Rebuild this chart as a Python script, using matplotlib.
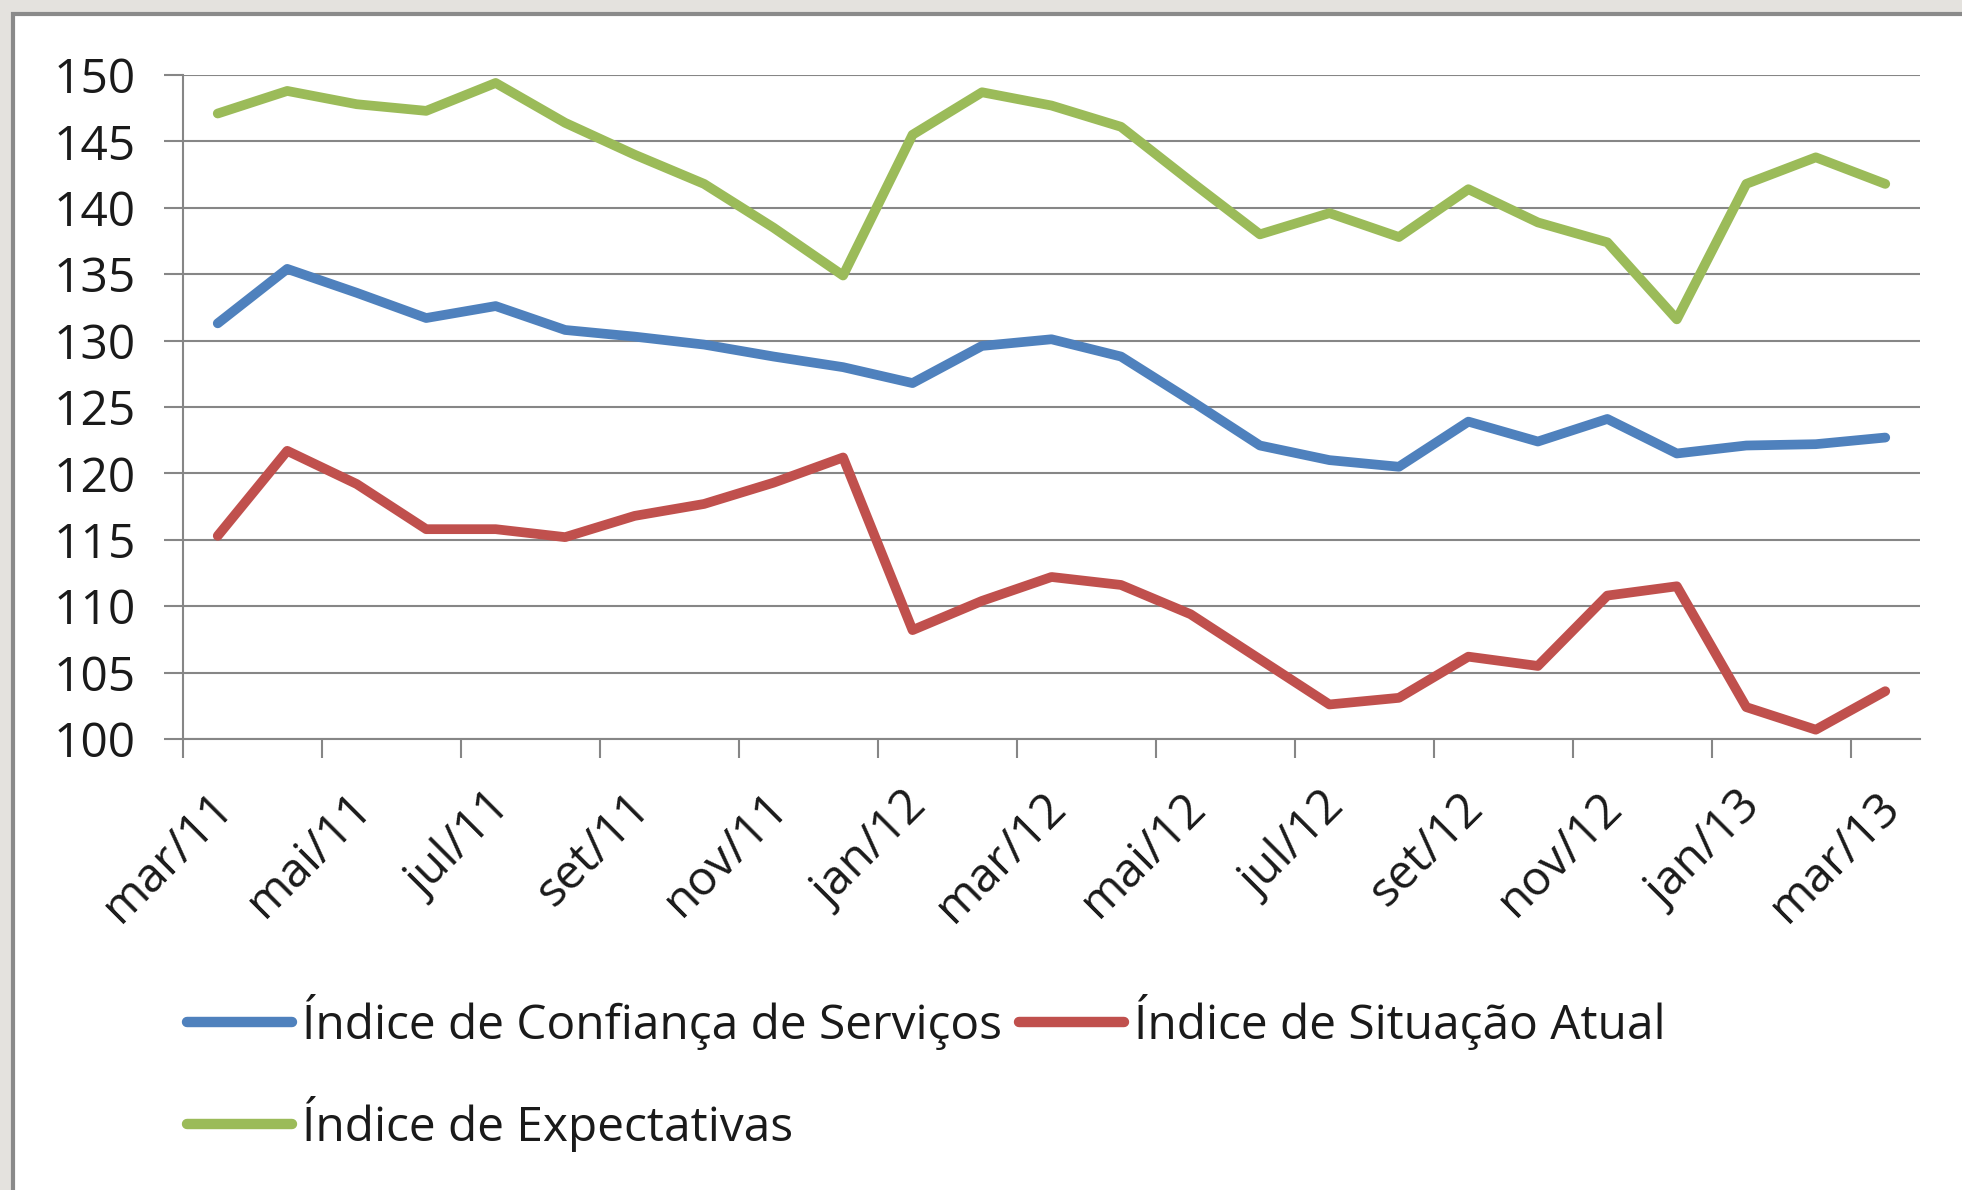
import matplotlib
matplotlib.use("Agg")
import matplotlib.pyplot as plt
from matplotlib.patches import Rectangle
from matplotlib.transforms import ScaledTranslation
import numpy as np

months = ["mar/11", "abr/11", "mai/11", "jun/11", "jul/11", "ago/11", "set/11", "out/11",
          "nov/11", "dez/11", "jan/12", "fev/12", "mar/12", "abr/12", "mai/12", "jun/12",
          "jul/12", "ago/12", "set/12", "out/12", "nov/12", "dez/12", "jan/13", "fev/13", "mar/13"]

confianca = [131.3, 135.4, 133.6, 131.7, 132.6, 130.8, 130.3, 129.7, 128.8, 128.0, 126.8, 129.6,
             130.1, 128.8, 125.5, 122.1, 121.0, 120.5, 123.9, 122.4, 124.1, 121.5, 122.1, 122.2, 122.7]
situacao = [115.3, 121.7, 119.2, 115.8, 115.8, 115.2, 116.8, 117.7, 119.3, 121.2, 108.2, 110.4,
            112.2, 111.6, 109.4, 106.0, 102.6, 103.1, 106.2, 105.5, 110.8, 111.5, 102.4, 100.7, 103.6]
expectativas = [147.1, 148.8, 147.8, 147.3, 149.4, 146.4, 144.0, 141.8, 138.5, 134.9, 145.5, 148.7,
                147.7, 146.1, 142.0, 138.0, 139.6, 137.8, 141.4, 138.9, 137.4, 131.6, 141.8, 143.8, 141.8]

series_names = ["Índice de Confiança de Serviços", "Índice de Situação Atual", "Índice de Expectativas"]
colors = ["#4F81BD", "#C0504D", "#9BBB59"]
y_ticks = [100, 105, 110, 115, 120, 125, 130, 135, 140, 145, 150]

plt.rcParams['font.family'] = ['Open Sans', 'DejaVu Sans']
FS = 34.5
GRID = "#868686"
TXT = "#1a1a1a"

W, H = 1962, 1190
fig = plt.figure(figsize=(W / 100, H / 100), dpi=100)
fig.patch.set_facecolor("#e4e2de")

# white chart box with grey border on left/top
fig.add_artist(Rectangle((13 / W, -0.02), 1.05, 1 - 14 / H + 0.02, transform=fig.transFigure,
                         facecolor="white", edgecolor="#8a8a8a", linewidth=3, zorder=0))

ax = fig.add_axes([183 / W, 1 - 739 / H, (1920 - 183) / W, (739 - 75) / H])
ax.set_facecolor("none")

x = np.arange(len(months))
lines = []
for vals, name, c in zip([confianca, situacao, expectativas], series_names, colors):
    ln, = ax.plot(x, vals, color=c, lw=7, solid_capstyle="round", solid_joinstyle="round",
                  label=name, zorder=3)
    lines.append(ln)

ax.set_xlim(-0.5, len(months) - 0.5)
ax.set_ylim(100, 150)
ax.set_yticks(y_ticks)
ax.set_yticklabels([str(v) for v in y_ticks])
ax.yaxis.grid(True, color=GRID, lw=1.5)
ax.set_axisbelow(True)

for s in ["top", "right"]:
    ax.spines[s].set_visible(False)
for s in ["left", "bottom"]:
    ax.spines[s].set_color(GRID)
    ax.spines[s].set_linewidth(1.5)

ax.tick_params(axis="y", length=14, width=1.5, color=GRID, labelsize=FS, labelcolor=TXT, pad=20)

# major ticks at category boundaries every 2 months, labels on categories
ax.set_xticks(np.arange(-0.5, len(months) - 1, 2))
ax.set_xticklabels([])
ax.tick_params(axis="x", which="major", length=14, width=1.5, color=GRID)
lab_idx = np.arange(0, len(months), 2)
ax.set_xticks(lab_idx, minor=True)
ax.set_xticklabels([months[i] for i in lab_idx], minor=True, rotation=45, ha="right",
                   va="center", rotation_mode="anchor", fontsize=FS, color=TXT)
ax.tick_params(axis="x", which="minor", length=0, pad=44)
off = ScaledTranslation(8 / 100, 0, fig.dpi_scale_trans)
for lab in ax.get_xticklabels(minor=True):
    lab.set_transform(lab.get_transform() + off)

# legend filled row-wise: row1 = Confiança, Situação; row2 = Expectativas
order = [0, 2, 1]
leg = fig.legend([lines[i] for i in order], [series_names[i] for i in order],
                 loc="upper left", bbox_to_anchor=(187 / W, 1 - 994 / H), ncol=2,
                 frameon=False, fontsize=FS, handlelength=2.2, handletextpad=0.2,
                 columnspacing=0.35, labelspacing=0.95, borderpad=0, borderaxespad=0)
for t in leg.get_texts():
    t.set_color(TXT)
for l in leg.get_lines():
    l.set_linewidth(7.5)
    l.set_solid_capstyle("round")

fig.savefig("out.png", dpi=100, facecolor=fig.get_facecolor())
